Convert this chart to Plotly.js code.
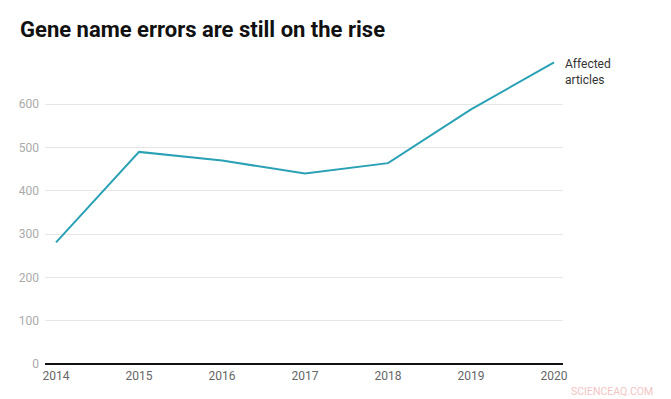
<!DOCTYPE html>
<html><head><meta charset="utf-8">
<script src="https://cdn.plot.ly/plotly-3.0.1.min.js"></script>
<style>html,body{margin:0;padding:0;background:#fff}#chart{width:671px;height:399px}</style>
</head><body><div id="chart"></div>
<script>
const years = [2014, 2015, 2016, 2017, 2018, 2019, 2020];
const affected = [281, 490, 470, 440, 464, 588, 697];
const seriesName = "Affected<br>articles";
const yTicks = [0, 100, 200, 300, 400, 500, 600];

const trace = {
  x: years, y: affected, type: 'scatter', mode: 'lines',
  line: {color: '#2aa1b5', width: 2},
  hoverinfo: 'none'
};
const layout = {
  width: 671, height: 399,
  margin: {l: 45, r: 108, t: 61, b: 35},
  paper_bgcolor: '#fff', plot_bgcolor: '#fff',
  showlegend: false,
  font: {family: 'Roboto, sans-serif'},
  title: {text: '<b>Gene name errors are still on the rise</b>', x: 0, xref: 'paper', xanchor: 'left',
          font: {family: 'Roboto', size: 22, color: '#111'}, y: 0.927, yref: 'container', yanchor: 'middle', pad: {l: 0}},
  xaxis: {range: [2013.867, 2020.108], tickvals: years, ticktext: years.map(String),
          showgrid: false, zeroline: false, showline: false, ticks: '',
          tickfont: {size: 12, color: '#666'}, ticklabelstandoff: 3, fixedrange: true},
  yaxis: {range: [0, 700], tickvals: yTicks, showgrid: true, gridcolor: '#e6e6e6', gridwidth: 1,
          zeroline: true, zerolinecolor: '#111', zerolinewidth: 1.2, showline: false, ticks: '',
          tickfont: {size: 12, color: '#aaa'}, ticklabelstandoff: 5},
  annotations: [
    {x: years[years.length-1], y: affected[affected.length-1], xref: 'x', yref: 'y',
     text: seriesName, showarrow: false, xanchor: 'left', yanchor: 'top', xshift: 9, yshift: 7,
     align: 'left', font: {size: 12, color: '#333'}},
    {x: 1, y: 0, xref: 'paper', yref: 'paper', text: 'SCIENCEAQ.COM', showarrow: false,
     xanchor: 'right', yanchor: 'top', xshift: 92, yshift: -19, font: {size: 10.5, color: '#f2c4c4'}}
  ]
};
Plotly.newPlot('chart', [trace], layout, {displayModeBar: false, staticPlot: true}).then(() => {
  const t = document.querySelector('.gtitle');
  if (t) { t.setAttribute('x', 20); }
});
</script></body></html>
